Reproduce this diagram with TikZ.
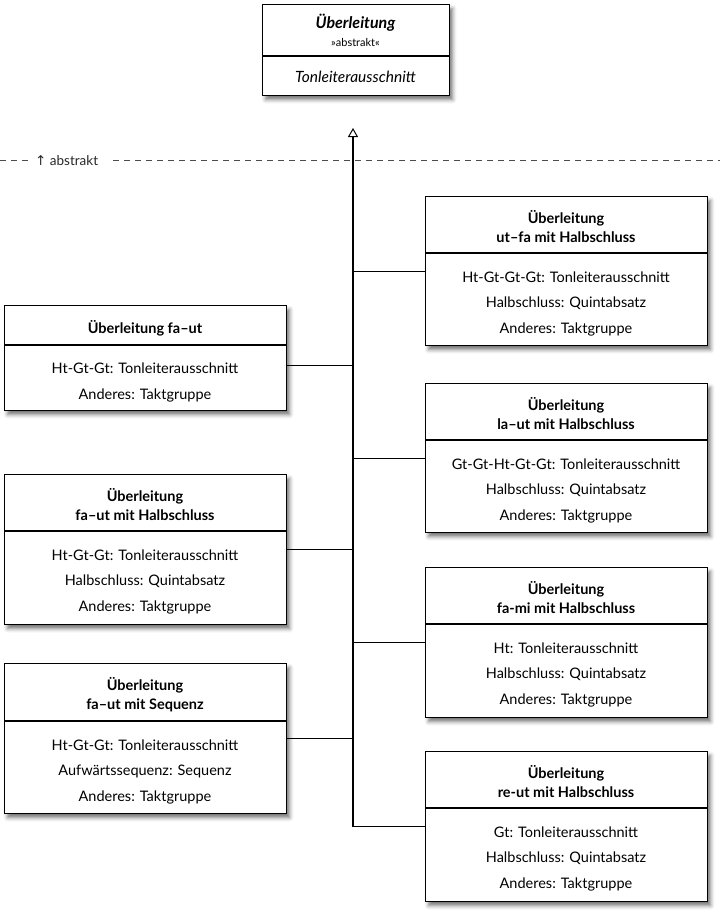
\documentclass[tikz,border=0pt]{standalone}
\usepackage{fontspec}
\setmainfont{Lato}
\newfontfamily\symfont{DejaVu Sans}
\usetikzlibrary{arrows.meta,shadows.blur,calc}
\begin{document}
\begin{tikzpicture}[x=1pt,y=-1pt,
  box/.style={draw=black, line width=1.2pt, fill=white, inner sep=0pt, anchor=north west,
    blur shadow={shadow xshift=3pt, shadow yshift=-4pt, shadow blur radius=4pt, shadow opacity=55}},
  divline/.style={line width=1.2pt},
  hd/.style={font=\fontsize{14.5}{16}\selectfont\bfseries, anchor=base, inner sep=0pt},
  bd/.style={font=\fontsize{14.5}{16}\selectfont, anchor=base, inner sep=0pt},
  conn/.style={line width=1.2pt},
  sep/.style={draw=black!70, line width=0.8pt, dash pattern=on 6pt off 5pt}]
\useasboundingbox (0,0) rectangle (720,914);

% abstract separator
\node[font=\fontsize{13.5}{15}\selectfont, anchor=base west, inner sep=0pt, text=black!85] (abs) at (35,165) {{\symfont ↑} abstrakt};
\coordinate (sepL) at (0,160);
\coordinate (sepR) at (720,160);
\draw[sep] (sepL) -- (28,160);
\draw[sep] (113,160) -- (sepR);

% top abstract class
\node[box, minimum width=187pt, minimum height=91pt] (top) at (262,4) {};
\draw[divline] (top.west |- 0,56) -- (top.east |- 0,56);
\node[hd, font=\fontsize{16}{18}\selectfont\bfseries\itshape] (topt) at (355.5,28) {Überleitung};
\node[bd, font=\fontsize{11}{13}\selectfont] (tops) at (355.5,46) {»abstrakt«};
\node[bd, font=\fontsize{15.5}{17}\selectfont\itshape] (topa) at (355.5,82) {Tonleiterausschnitt};

% left classes
\node[box, minimum width=282pt, minimum height=105pt] (L1) at (4,305) {};
\draw[divline] (L1.west |- 0,345) -- (L1.east |- 0,345);
\node[hd] (L1h) at (145,333) {Überleitung fa–ut};
\node[bd] (L1a) at (145,373) {Ht-Gt-Gt: Tonleiterausschnitt};
\node[bd] (L1b) at (145,399) {Anderes: Taktgruppe};

\node[box, minimum width=282pt, minimum height=150pt] (L2) at (4,474) {};
\draw[divline] (L2.west |- 0,531) -- (L2.east |- 0,531);
\node[hd] (L2h1) at (145,501) {Überleitung};
\node[hd] (L2h2) at (145,520) {fa–ut mit Halbschluss};
\node[bd] (L2a) at (145,560) {Ht-Gt-Gt: Tonleiterausschnitt};
\node[bd] (L2b) at (145,585) {Halbschluss: Quintabsatz};
\node[bd] (L2c) at (145,611) {Anderes: Taktgruppe};

\node[box, minimum width=282pt, minimum height=150pt] (L3) at (4,663) {};
\draw[divline] (L3.west |- 0,721) -- (L3.east |- 0,721);
\node[hd] (L3h1) at (145,690) {Überleitung};
\node[hd] (L3h2) at (145,709) {fa–ut mit Sequenz};
\node[bd] (L3a) at (145,750) {Ht-Gt-Gt: Tonleiterausschnitt};
\node[bd] (L3b) at (145,775) {Aufwärtssequenz: Sequenz};
\node[bd] (L3c) at (145,801) {Anderes: Taktgruppe};

% right classes
\node[box, minimum width=282pt, minimum height=149pt] (R1) at (425,196) {};
\draw[divline] (R1.west |- 0,253) -- (R1.east |- 0,253);
\node[hd] (R1h1) at (566,223) {Überleitung};
\node[hd] (R1h2) at (566,242) {ut–fa mit Halbschluss};
\node[bd] (R1a) at (566,282) {Ht-Gt-Gt-Gt: Tonleiterausschnitt};
\node[bd] (R1b) at (566,307) {Halbschluss: Quintabsatz};
\node[bd] (R1c) at (566,333) {Anderes: Taktgruppe};

\node[box, minimum width=282pt, minimum height=149pt] (R2) at (425,383) {};
\draw[divline] (R2.west |- 0,440) -- (R2.east |- 0,440);
\node[hd] (R2h1) at (566,410) {Überleitung};
\node[hd] (R2h2) at (566,429) {la–ut mit Halbschluss};
\node[bd] (R2a) at (566,469) {Gt-Gt-Ht-Gt-Gt: Tonleiterausschnitt};
\node[bd] (R2b) at (566,494) {Halbschluss: Quintabsatz};
\node[bd] (R2c) at (566,520) {Anderes: Taktgruppe};

\node[box, minimum width=282pt, minimum height=150pt] (R3) at (425,567) {};
\draw[divline] (R3.west |- 0,624) -- (R3.east |- 0,624);
\node[hd] (R3h1) at (566,594) {Überleitung};
\node[hd] (R3h2) at (566,613) {fa-mi mit Halbschluss};
\node[bd] (R3a) at (566,653) {Ht: Tonleiterausschnitt};
\node[bd] (R3b) at (566,678) {Halbschluss: Quintabsatz};
\node[bd] (R3c) at (566,704) {Anderes: Taktgruppe};

\node[box, minimum width=282pt, minimum height=150pt] (R4) at (425,751) {};
\draw[divline] (R4.west |- 0,808) -- (R4.east |- 0,808);
\node[hd] (R4h1) at (566,778) {Überleitung};
\node[hd] (R4h2) at (566,797) {re-ut mit Halbschluss};
\node[bd] (R4a) at (566,837) {Gt: Tonleiterausschnitt};
\node[bd] (R4b) at (566,862) {Halbschluss: Quintabsatz};
\node[bd] (R4c) at (566,888) {Anderes: Taktgruppe};

% generalization trunk
\coordinate (tip) at (353,128);
\coordinate (trunkend) at (353,827);
\draw[conn, -{Triangle[open, width=10pt, length=9pt, line width=1pt]}] (trunkend) -- (tip);

% branches
\draw[conn] ([yshift=-7pt]L1.east) -- ([yshift=-7pt]L1.east -| tip);
\draw[conn] (L2.east) -- (L2.east -| tip);
\draw[conn] (L3.east) -- (L3.east -| tip);
\draw[conn] (R1.west) -- (R1.west -| tip);
\draw[conn] (R2.west) -- (R2.west -| tip);
\draw[conn] (R3.west) -- (R3.west -| tip);
\draw[conn] (R4.west) -- (R4.west -| tip);
\end{tikzpicture}
\end{document}
